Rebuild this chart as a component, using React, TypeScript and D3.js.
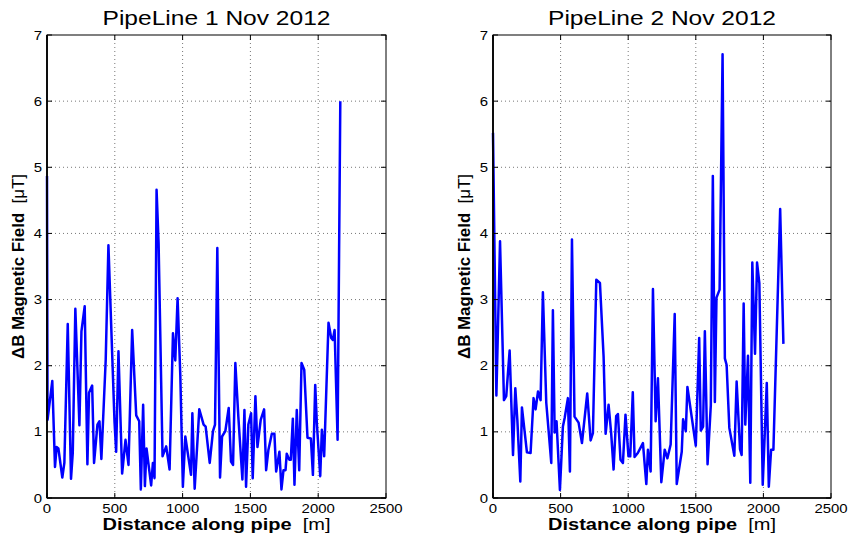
import React from "react";
import * as d3 from "d3";

const dist1 = [0, 4, 39, 59, 71, 84, 113, 128, 153, 177, 190, 209, 239, 254, 278, 298, 310, 333, 347, 372, 387, 401, 433, 453, 498, 510, 527, 554, 579, 601, 628, 658, 680, 692, 709, 722, 734, 768, 781, 793, 808, 823, 852, 879, 904, 929, 946, 963, 983, 1002, 1020, 1062, 1072, 1089, 1123, 1155, 1170, 1200, 1224, 1239, 1256, 1276, 1291, 1315, 1340, 1357, 1372, 1389, 1411, 1441, 1456, 1468, 1485, 1505, 1517, 1537, 1552, 1576, 1601, 1616, 1633, 1658, 1677, 1690, 1714, 1729, 1744, 1759, 1768, 1786, 1798, 1813, 1825, 1842, 1860, 1877, 1897, 1921, 1946, 1961, 1978, 1990, 2015, 2027, 2044, 2076, 2096, 2108, 2121, 2143, 2163];
const field1 = [4.87, 1.18, 1.77, 0.47, 0.77, 0.75, 0.31, 0.53, 2.63, 0.29, 0.68, 2.86, 1.10, 2.52, 2.90, 0.51, 1.59, 1.70, 0.53, 1.11, 1.16, 0.59, 2.09, 3.82, 1.15, 0.70, 2.22, 0.37, 0.88, 0.50, 2.54, 1.25, 1.16, 0.13, 1.41, 0.18, 0.75, 0.19, 0.53, 0.30, 4.66, 3.85, 0.63, 0.78, 0.43, 2.49, 2.08, 3.02, 1.86, 0.17, 0.93, 0.35, 1.28, 0.14, 1.34, 1.11, 1.08, 0.53, 1.01, 1.11, 3.78, 0.31, 0.93, 1.01, 1.36, 0.55, 0.50, 2.04, 1.23, 0.28, 1.33, 0.17, 1.11, 1.28, 0.30, 1.54, 0.77, 1.18, 1.34, 0.42, 0.73, 0.97, 0.97, 0.40, 0.70, 0.13, 0.42, 0.42, 0.67, 0.58, 0.58, 1.20, 0.20, 1.33, 0.42, 2.04, 1.94, 0.91, 0.90, 0.35, 1.71, 1.13, 0.33, 1.03, 0.63, 2.65, 2.42, 2.39, 2.54, 0.88, 6.00];

const dist2 = [0, 25, 52, 81, 98, 123, 148, 165, 180, 202, 214, 251, 278, 300, 315, 333, 352, 369, 394, 431, 443, 456, 470, 495, 517, 530, 554, 569, 584, 603, 633, 658, 697, 722, 739, 764, 791, 818, 833, 855, 874, 892, 911, 924, 943, 961, 980, 1002, 1015, 1034, 1047, 1071, 1109, 1134, 1146, 1166, 1183, 1203, 1220, 1245, 1270, 1290, 1314, 1344, 1359, 1396, 1406, 1426, 1438, 1500, 1525, 1537, 1554, 1567, 1587, 1611, 1626, 1641, 1653, 1676, 1698, 1715, 1728, 1748, 1785, 1802, 1827, 1839, 1854, 1866, 1886, 1903, 1918, 1938, 1953, 1970, 1995, 2025, 2040, 2057, 2074, 2124, 2148];
const field2 = [5.52, 1.55, 3.88, 1.48, 1.54, 2.23, 0.65, 1.66, 1.18, 0.25, 1.37, 0.69, 0.68, 1.51, 1.34, 1.61, 1.48, 3.11, 1.44, 0.53, 2.84, 0.99, 1.16, 0.12, 1.08, 1.21, 1.51, 0.40, 3.91, 1.23, 1.14, 0.83, 1.58, 0.87, 0.98, 3.30, 3.25, 2.14, 0.97, 1.41, 0.98, 0.43, 1.24, 1.27, 0.58, 0.53, 1.26, 0.63, 0.63, 1.60, 0.62, 0.68, 0.83, 0.21, 0.73, 0.40, 3.16, 1.16, 1.81, 0.24, 0.73, 0.60, 0.81, 2.78, 0.21, 0.70, 1.19, 1.01, 1.68, 0.79, 2.42, 1.02, 1.08, 2.52, 0.51, 1.40, 4.87, 1.45, 3.03, 3.15, 6.71, 2.11, 2.01, 1.06, 0.64, 1.76, 0.74, 0.65, 2.94, 1.11, 2.15, 0.23, 3.56, 2.18, 3.56, 3.25, 0.20, 1.74, 0.17, 0.73, 0.73, 4.37, 2.33];

const xTicks = [0, 500, 1000, 1500, 2000, 2500];
const yTicks = [0, 1, 2, 3, 4, 5, 6, 7];
const titles = ["PipeLine 1 Nov 2012", "PipeLine 2 Nov 2012"];
const xLabelBold = "Distance along pipe";
const xLabelUnit = "[m]";
const yLabelBold = "\u0394B Magnetic Field";
const yLabelUnit = "[\u03bcT]";

const FONT = "'Liberation Sans', Arial, Helvetica, sans-serif";

function Panel({ x0, x1, dist, field, title }: { x0: number; x1: number; dist: number[]; field: number[]; title: string }) {
  const top = 35;
  const bottom = 498;
  const x = d3.scaleLinear().domain([0, 2500]).range([x0, x1]);
  const y = d3.scaleLinear().domain([0, 7]).range([bottom, top]);
  const pts: [number, number][] = dist.map((d, i) => [d, field[i]]);
  const line = d3.line<[number, number]>().x((d) => x(d[0])).y((d) => y(d[1]));
  const cx = (x0 + x1) / 2;
  const cy = (top + bottom) / 2;
  const tl = 5;
  return (
    <g>
      {xTicks.slice(1, -1).map((t) => (
        <line key={"gx" + t} x1={x(t)} x2={x(t)} y1={top} y2={bottom} stroke="#777" strokeWidth={1} strokeDasharray="1,3" />
      ))}
      {yTicks.slice(1, -1).map((t) => (
        <line key={"gy" + t} x1={x0} x2={x1} y1={y(t)} y2={y(t)} stroke="#777" strokeWidth={1} strokeDasharray="1,3" />
      ))}
      <path d={line(pts) || ""} fill="none" stroke="#0000ff" strokeWidth={2.5} strokeLinejoin="round" />
      <rect x={x0} y={top} width={x1 - x0} height={bottom - top} fill="none" stroke="#000" strokeWidth={1} />
      <line x1={x0} x2={x0} y1={top} y2={bottom} stroke="#000" strokeWidth={1.8} />
      <line x1={x0} x2={x1} y1={bottom} y2={bottom} stroke="#000" strokeWidth={1.5} />
      {xTicks.map((t) => (
        <g key={"xt" + t}>
          <line x1={x(t)} x2={x(t)} y1={bottom} y2={bottom - tl} stroke="#000" />
          <line x1={x(t)} x2={x(t)} y1={top} y2={top + tl} stroke="#000" />
          <text transform={`translate(${x(t)},${bottom + 15}) scale(1.15,1)`} textAnchor="middle" fontSize={13} fontFamily={FONT}>{t}</text>
        </g>
      ))}
      {yTicks.map((t) => (
        <g key={"yt" + t}>
          <line x1={x0} x2={x0 + tl} y1={y(t)} y2={y(t)} stroke="#000" />
          <line x1={x1} x2={x1 - tl} y1={y(t)} y2={y(t)} stroke="#000" />
          <text transform={`translate(${x0 - 5},${y(t) + 4.5}) scale(1.15,1)`} textAnchor="end" fontSize={13} fontFamily={FONT}>{t}</text>
        </g>
      ))}
      <text x={cx} y={25} textAnchor="middle" fontSize={21} fontFamily={FONT} textLength={228} lengthAdjust="spacingAndGlyphs">{title}</text>
      <text x={cx} y={530} textAnchor="middle" fontSize={16} fontFamily={FONT} textLength={228} lengthAdjust="spacingAndGlyphs">
        <tspan fontWeight="bold">{xLabelBold}</tspan>
        <tspan>{"\u00a0\u00a0" + xLabelUnit}</tspan>
      </text>
      <text transform={`translate(${x0 - 23},${cy}) rotate(-90)`} textAnchor="middle" fontSize={16.5} fontFamily={FONT} textLength={185} lengthAdjust="spacingAndGlyphs">
        <tspan fontWeight="bold">{yLabelBold}</tspan>
        <tspan>{"\u00a0\u00a0" + yLabelUnit}</tspan>
      </text>
    </g>
  );
}

export default function App() {
  return (
    <svg width={850} height={537} style={{ position: "absolute", left: 0, top: 0, background: "#fff" }}>
      <rect width={850} height={537} fill="#fff" />
      <Panel x0={47} x1={386} dist={dist1} field={field1} title={titles[0]} />
      <Panel x0={493} x1={831} dist={dist2} field={field2} title={titles[1]} />
    </svg>
  );
}
